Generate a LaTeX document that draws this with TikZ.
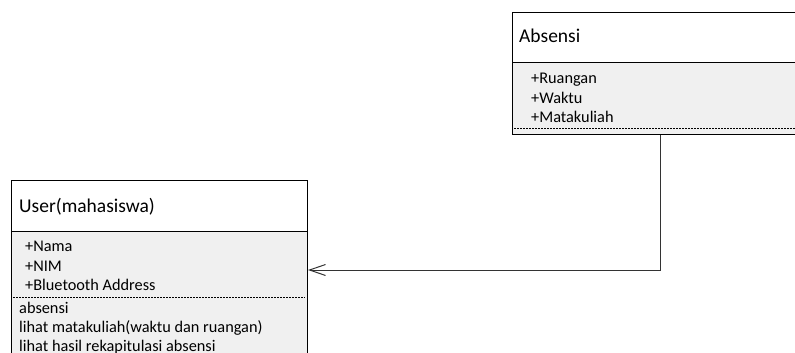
\documentclass[tikz,border=0pt]{standalone}
\usepackage{fontspec}
\setmainfont{Carlito}
\usetikzlibrary{arrows.meta}
\definecolor{bodygray}{HTML}{F0F0F0}
\definecolor{conngray}{HTML}{333333}
\tikzset{
  headbox/.style={draw=black, line width=1pt, fill=white, anchor=north west, inner sep=0pt},
  bodybox/.style={draw=black, line width=1pt, fill=bodygray, anchor=north west, inner sep=0pt},
  titletext/.style={anchor=base west, inner sep=0pt, font=\fontsize{19.5}{22}\selectfont},
  itemtext/.style={anchor=base west, inner sep=0pt, font=\fontsize{16.3}{19}\selectfont},
  sepline/.style={line width=0.8pt, dash pattern=on 2pt off 1pt},
  conn/.style={draw=conngray, line width=1pt, -{Straight Barb[length=16pt,width=11pt,line width=1pt]}}
}
\begin{document}
\begin{tikzpicture}[x=1pt,y=-1pt]
\useasboundingbox (0,0) rectangle (795,353);
\clip (0,0) rectangle (795,353);
% Absensi class
\node[headbox, minimum width=290pt, minimum height=50pt] (abshead) at (512,12) {};
\node[bodybox, minimum width=290pt, minimum height=72pt] (absbody) at (512,62) {};
\node[titletext] (abstitle) at (519,43) {Absensi};
\node[itemtext] (abs1) at (531,83) {+Ruangan};
\node[itemtext] (abs2) at (531,103) {+Waktu};
\node[itemtext] (abs3) at (531,122) {+Matakuliah};
\draw[sepline] (514,128) -- (800,128);
% User class
\node[headbox, minimum width=296pt, minimum height=51pt] (userhead) at (11,180) {};
\node[bodybox, minimum width=296pt, minimum height=130pt] (userbody) at (11,231) {};
\node[titletext] (usertitle) at (19,212) {User(mahasiswa)};
\node[itemtext] (u1) at (25,251) {+Nama};
\node[itemtext] (u2) at (25,271) {+NIM};
\node[itemtext] (u3) at (25,290) {+Bluetooth Address};
\draw[sepline] (13,297) -- (305,297);
\node[itemtext] (m1) at (19,313) {absensi};
\node[itemtext] (m2) at (19,332) {lihat matakuliah(waktu dan ruangan)};
\node[itemtext] (m3) at (19,351) {lihat hasil rekapitulasi absensi};
% connector
\draw[conn] ([xshift=148pt]absbody.south west) |- ([yshift=-39pt]userbody.north east);
\end{tikzpicture}
\end{document}
